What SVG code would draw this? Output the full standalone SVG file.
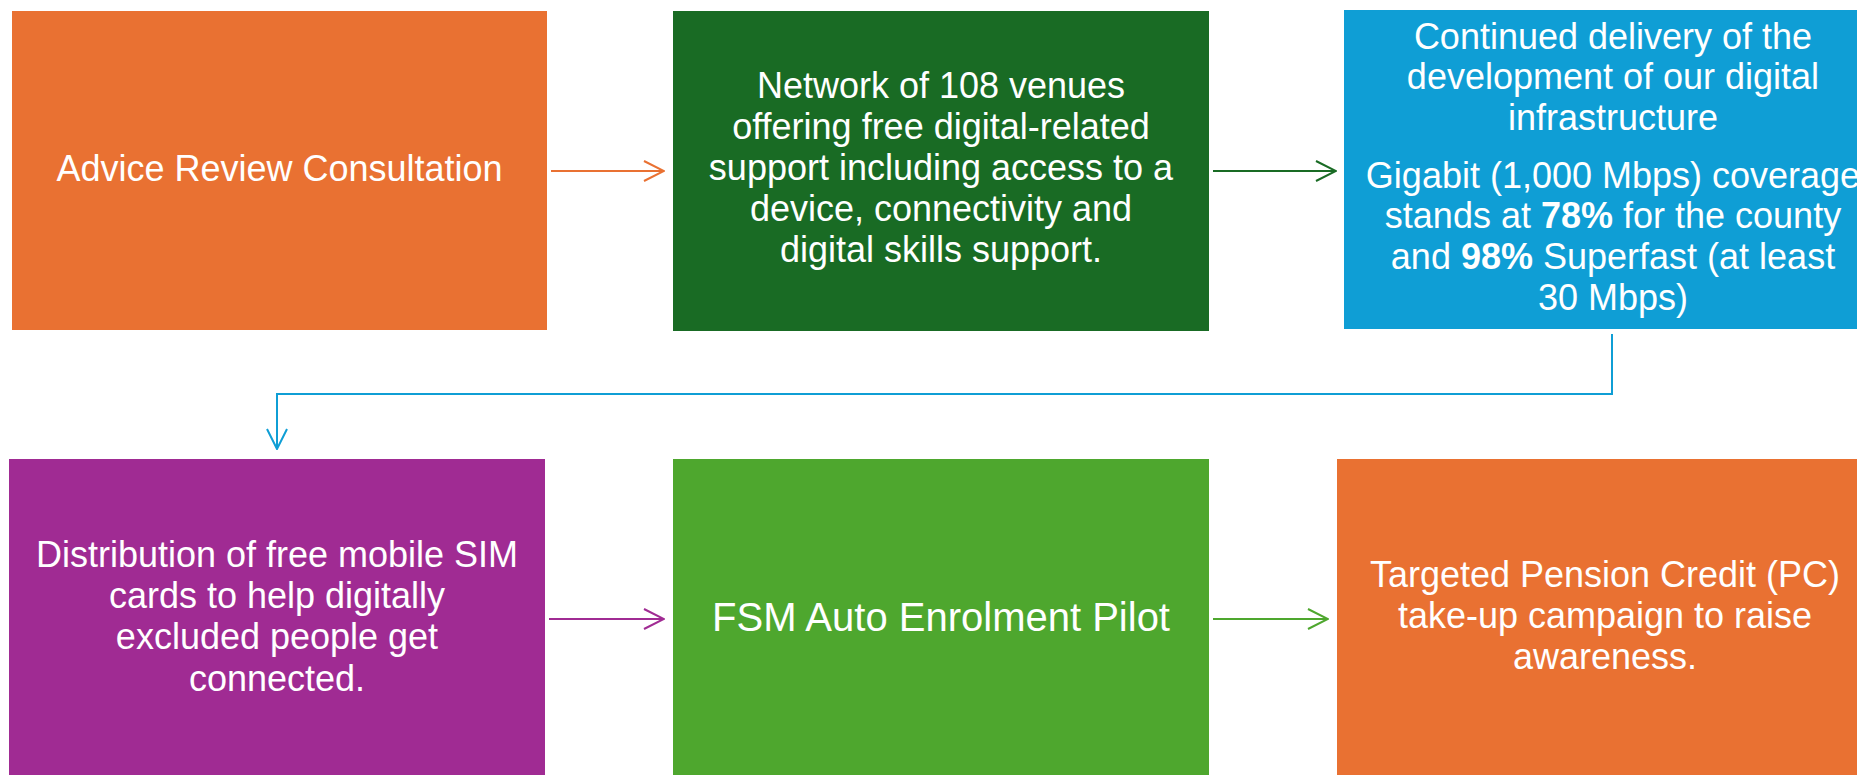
<svg xmlns="http://www.w3.org/2000/svg" width="1857" height="775" viewBox="0 0 1857 775">
  <style>
    .lbl { font-family: "Liberation Sans", Arial, sans-serif; font-size: 36px; fill: #ffffff; text-anchor: middle; }
    .big { font-size: 40px; }
    .b { font-weight: bold; }
    .conn { fill: none; stroke-width: 2; }
  </style>
  <defs>
    <marker id="ah-orange" viewBox="0 0 22 22" refX="21" refY="11" markerWidth="22" markerHeight="22" markerUnits="userSpaceOnUse" orient="auto">
      <path d="M1,1 L21,11 L1,21" fill="none" stroke="#E97132" stroke-width="2"/>
    </marker>
    <marker id="ah-dkgreen" viewBox="0 0 22 22" refX="21" refY="11" markerWidth="22" markerHeight="22" markerUnits="userSpaceOnUse" orient="auto">
      <path d="M1,1 L21,11 L1,21" fill="none" stroke="#196B24" stroke-width="2"/>
    </marker>
    <marker id="ah-blue" viewBox="0 0 22 22" refX="21" refY="11" markerWidth="22" markerHeight="22" markerUnits="userSpaceOnUse" orient="auto">
      <path d="M1,1 L21,11 L1,21" fill="none" stroke="#0F9ED5" stroke-width="2"/>
    </marker>
    <marker id="ah-purple" viewBox="0 0 22 22" refX="21" refY="11" markerWidth="22" markerHeight="22" markerUnits="userSpaceOnUse" orient="auto">
      <path d="M1,1 L21,11 L1,21" fill="none" stroke="#A02B93" stroke-width="2"/>
    </marker>
    <marker id="ah-green" viewBox="0 0 22 22" refX="21" refY="11" markerWidth="22" markerHeight="22" markerUnits="userSpaceOnUse" orient="auto">
      <path d="M1,1 L21,11 L1,21" fill="none" stroke="#4EA72E" stroke-width="2"/>
    </marker>
  </defs>

  <rect width="1857" height="775" fill="#ffffff"/>

  <!-- top row -->
  <g id="advice-review">
    <rect x="12" y="11" width="535" height="319" fill="#E97132"/>
    <text class="lbl" x="279.5" y="181">Advice Review Consultation</text>
  </g>

  <g id="venue-network">
    <rect x="673" y="11" width="536" height="320" fill="#196B24"/>
    <text class="lbl" x="941" y="98">Network of 108 venues</text>
    <text class="lbl" x="941" y="139">offering free digital-related</text>
    <text class="lbl" x="941" y="180">support including access to a</text>
    <text class="lbl" x="941" y="221">device, connectivity and</text>
    <text class="lbl" x="941" y="262">digital skills support.</text>
  </g>

  <g id="digital-infrastructure">
    <rect x="1344" y="10" width="540" height="319" fill="#0F9ED5"/>
    <text class="lbl" x="1613" y="49">Continued delivery of the</text>
    <text class="lbl" x="1613" y="89">development of our digital</text>
    <text class="lbl" x="1613" y="130">infrastructure</text>
    <text class="lbl" x="1613" y="188">Gigabit (1,000 Mbps) coverage</text>
    <text class="lbl" x="1613" y="228">stands at <tspan class="b">78%</tspan> for the county</text>
    <text class="lbl" x="1613" y="269">and <tspan class="b">98%</tspan> Superfast (at least</text>
    <text class="lbl" x="1613" y="310">30 Mbps)</text>
  </g>

  <!-- bottom row -->
  <g id="sim-cards">
    <rect x="9" y="459" width="536" height="320" fill="#A02B93"/>
    <text class="lbl" x="277" y="567">Distribution of free mobile SIM</text>
    <text class="lbl" x="277" y="608">cards to help digitally</text>
    <text class="lbl" x="277" y="649">excluded people get</text>
    <text class="lbl" x="277" y="691">connected.</text>
  </g>

  <g id="fsm-pilot">
    <rect x="673" y="459" width="536" height="320" fill="#4EA72E"/>
    <text class="lbl big" x="941" y="631">FSM Auto Enrolment Pilot</text>
  </g>

  <g id="pension-credit">
    <rect x="1337" y="459" width="540" height="320" fill="#E97132"/>
    <text class="lbl" x="1605" y="587">Targeted Pension Credit (PC)</text>
    <text class="lbl" x="1605" y="628">take-up campaign to raise</text>
    <text class="lbl" x="1605" y="669">awareness.</text>
  </g>

  <!-- connectors -->
  <g id="connectors">
    <line class="conn" x1="551" y1="171" x2="664" y2="171" stroke="#E97132" marker-end="url(#ah-orange)"/>
    <line class="conn" x1="1213" y1="171" x2="1336" y2="171" stroke="#196B24" marker-end="url(#ah-dkgreen)"/>
    <polyline class="conn" points="1612,334 1612,394 277,394 277,449" stroke="#0F9ED5" marker-end="url(#ah-blue)"/>
    <line class="conn" x1="549" y1="619" x2="664" y2="619" stroke="#A02B93" marker-end="url(#ah-purple)"/>
    <line class="conn" x1="1213" y1="619" x2="1328" y2="619" stroke="#4EA72E" marker-end="url(#ah-green)"/>
  </g>
</svg>
